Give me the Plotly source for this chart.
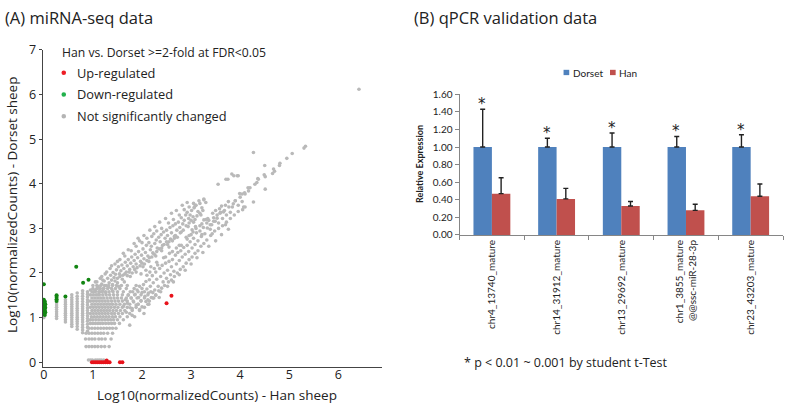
import plotly.graph_objects as go

W, H = 787, 410

# ---------------- Panel A data (log10 normalized counts) ----------------
green_x = [0.0, 0.0, 0.02, 0.0, 0.03, 0.01, 0.0, 0.02, 0.03, 0.0, 0.01, 0.02, 0.0, 0.03, 0.01, 0.0, 0.02,
           0.0, 0.01, 0.02, 0.26, 0.26, 0.26, 0.26, 0.44, 0.66, 0.80, 0.91]
green_y = [1.75, 1.40, 1.36, 1.33, 1.30, 1.28, 1.26, 1.24, 1.22, 1.20, 1.18, 1.16, 1.14, 1.12, 1.10, 1.08, 1.06,
           1.23, 1.27, 1.31, 1.50, 1.46, 1.41, 1.37, 1.47, 2.14, 1.78, 1.85]

red_x = [2.50, 2.60, 0.98, 1.02, 1.06, 1.10, 1.14, 1.18, 1.22, 1.26, 1.28, 1.30, 1.34, 1.55, 1.60]
red_y = [1.32, 1.49, 0.0, 0.0, 0.0, 0.0, 0.0, 0.0, 0.0, 0.0, 0.04, 0.0, 0.0, 0.0, 0.0]

# gray: low-count columns (x -> list of y)
gray_columns = {
    0.0: [1.00, 1.03],
    0.26: [0.98, 1.03, 1.08, 1.13, 1.18, 1.23, 1.28, 1.33],
    0.44: [0.90, 0.95, 1.00, 1.05, 1.10, 1.15, 1.20, 1.25, 1.30, 1.35, 1.40],
    0.57: [0.80, 0.85, 0.90, 0.95, 1.00, 1.05, 1.10, 1.15, 1.20, 1.25, 1.30, 1.35, 1.40, 1.45, 1.51],
    0.68: [0.74, 0.80, 0.86, 0.91, 0.96, 1.01, 1.06, 1.11, 1.16, 1.21, 1.26, 1.31, 1.36, 1.42, 1.48, 1.55],
    0.79: [0.66, 0.72, 0.78, 0.84, 0.90, 0.95, 1.00, 1.05, 1.10, 1.15, 1.20, 1.25, 1.30, 1.36, 1.42, 1.48, 1.54, 1.60],
    0.89: [0.70, 0.78, 0.85, 0.92, 0.98, 1.04, 1.10, 1.16, 1.22, 1.28, 1.34, 1.40, 1.46, 1.52, 1.58],
}
# gray: rows (y -> list of x)
gray_rows = {
    0.05: [0.91, 0.95, 0.99, 1.05, 1.09, 1.13, 1.17, 1.22],
    0.35: [0.86, 0.92, 0.98, 1.04, 1.10, 1.17, 1.24, 1.33],
    0.52: [0.85, 0.92, 0.98, 1.04, 1.12, 1.18, 1.25, 1.37],
    0.65: [0.86, 0.92, 0.98, 1.04, 1.10, 1.16, 1.22, 1.30, 1.40],
    0.76: [0.92, 0.98, 1.04, 1.10, 1.16, 1.22, 1.28, 1.34, 1.40, 1.47],
    0.87: [0.95, 1.00, 1.05, 1.10, 1.15, 1.20, 1.26, 1.32, 1.38, 1.44, 1.54],
    0.95: [0.95, 1.00, 1.06, 1.12, 1.18, 1.24, 1.30, 1.36, 1.42, 1.50, 1.62],
    1.02: [0.97, 1.03, 1.09, 1.15, 1.21, 1.27, 1.33, 1.40, 1.46, 1.55, 1.70, 1.85],
    1.09: [0.95, 1.01, 1.07, 1.13, 1.19, 1.25, 1.31, 1.38, 1.44, 1.52, 1.60, 1.75],
    1.16: [0.98, 1.04, 1.10, 1.16, 1.22, 1.28, 1.34, 1.41, 1.48, 1.56, 1.65, 1.80, 1.95],
    1.23: [0.95, 1.01, 1.07, 1.13, 1.19, 1.25, 1.31, 1.37, 1.44, 1.51, 1.60, 1.70, 1.88, 2.05],
    1.30: [0.98, 1.04, 1.10, 1.16, 1.22, 1.28, 1.34, 1.40, 1.47, 1.55, 1.64, 1.75, 1.92, 2.12],
    1.37: [0.95, 1.01, 1.07, 1.13, 1.19, 1.25, 1.31, 1.38, 1.45, 1.52, 1.60, 1.70, 1.82, 1.98, 2.15],
    1.44: [0.98, 1.04, 1.10, 1.16, 1.22, 1.29, 1.36, 1.43, 1.50, 1.58, 1.68, 1.78, 1.90, 2.05, 2.22],
    1.51: [0.95, 1.01, 1.07, 1.13, 1.20, 1.27, 1.34, 1.42, 1.50, 1.60, 1.72, 1.85, 1.98, 2.12, 2.28],
    1.58: [0.98, 1.05, 1.12, 1.19, 1.26, 1.33, 1.41, 1.50, 1.62, 1.76, 1.92, 2.05, 2.18],
    1.65: [1.00, 1.08, 1.15, 1.22, 1.30, 1.38, 1.46, 1.55, 1.68, 1.84, 2.00],
    1.72: [1.08, 1.16, 1.24, 1.32, 1.40, 1.48, 1.58, 1.70, 1.88],
}
# gray: upper diagonal band (x, y)
gray_upper_band = [
    (1.05, 1.62), (1.10, 1.70), (1.14, 1.58), (1.18, 1.75), (1.22, 1.66), (1.23, 1.82), (1.27, 1.72), (1.30, 1.88),
    (1.33, 1.78), (1.36, 1.95), (1.38, 1.84), (1.41, 2.01), (1.43, 1.90), (1.46, 1.97), (1.48, 2.07), (1.50, 1.88),
    (1.52, 2.14), (1.54, 1.98), (1.57, 2.05), (1.59, 2.18), (1.61, 1.95), (1.63, 2.10), (1.66, 2.24), (1.68, 2.02),
    (1.70, 2.16), (1.72, 2.30), (1.75, 2.08), (1.77, 2.22), (1.79, 2.36), (1.82, 2.14), (1.84, 2.28), (1.86, 2.42),
    (1.88, 2.20), (1.91, 2.34), (1.93, 2.48), (1.95, 2.72), (1.97, 2.26), (1.99, 2.40), (2.02, 2.54), (2.04, 2.32),
    (2.07, 2.46), (2.09, 2.62), (2.12, 2.38), (2.14, 2.68), (2.17, 2.52), (2.19, 2.60), (2.22, 2.45), (2.24, 2.88),
    (2.26, 2.66), (2.29, 2.74), (2.31, 2.56), (2.34, 2.80), (2.37, 2.70), (2.39, 2.86), (2.42, 2.62), (2.44, 2.92),
    (2.47, 2.78), (2.50, 2.96), (2.52, 2.84), (2.55, 2.70), (2.57, 3.02), (2.60, 2.90), (2.63, 3.06), (2.66, 2.82),
    (2.68, 3.10), (2.71, 2.96), (2.74, 3.14), (2.77, 3.02), (2.80, 3.24), (2.83, 3.10), (2.86, 3.18), (2.89, 3.30),
    (2.92, 3.36), (2.95, 3.22), (2.98, 3.30), (3.01, 3.40), (3.04, 3.26), (3.07, 3.48), (3.10, 3.52), (3.14, 3.38),
    (3.18, 3.56), (3.22, 3.46), (3.26, 3.64), (3.30, 3.58),
    (1.12, 1.52), (1.20, 1.60), (1.26, 1.56), (1.32, 1.68), (1.40, 1.74), (1.45, 1.82), (1.50, 1.78), (1.55, 1.92),
    (1.60, 1.86), (1.65, 1.98), (1.70, 1.94), (1.74, 2.02), (1.80, 2.00), (1.85, 2.08), (1.90, 2.12), (1.96, 2.16),
    (2.00, 2.22), (2.05, 2.20), (2.10, 2.28), (2.15, 2.34), (2.20, 2.36), (2.25, 2.42), (2.30, 2.48), (2.35, 2.54),
    (2.40, 2.50), (2.45, 2.64), (2.50, 2.70), (2.55, 2.58), (2.58, 2.76), (2.62, 2.72), (2.68, 2.84), (2.72, 2.80),
    (2.78, 2.90), (2.84, 2.96), (2.90, 3.06), (2.96, 3.12), (3.00, 3.18), (3.05, 3.14), (3.12, 3.28), (3.18, 3.34),
    (3.24, 3.40), (1.55, 2.30), (1.65, 2.38), (1.78, 2.50), (1.88, 2.60), (2.00, 2.68), (2.10, 2.78), (2.20, 2.82),
    (2.30, 2.94), (2.40, 3.00), (2.54, 3.12), (2.64, 3.20), (2.76, 3.30), (2.86, 3.42), (2.96, 3.48), (3.05, 3.56),
    (3.16, 3.62), (1.45, 2.20), (1.35, 2.10), (1.25, 1.98), (1.15, 1.88), (1.08, 1.80),
    (1.18, 1.92), (1.28, 2.02), (1.38, 2.16), (1.50, 2.26), (1.62, 2.44), (1.72, 2.52), (1.84, 2.66), (1.92, 2.78),
    (2.04, 2.84), (2.16, 2.96), (2.26, 3.04), (2.36, 3.14), (2.48, 3.22), (2.60, 3.34), (2.70, 3.40), (2.82, 3.52),
    (2.92, 3.58), (1.40, 1.60), (1.52, 1.70), (1.64, 1.80), (1.76, 1.92), (1.88, 2.02), (2.02, 2.14), (2.14, 2.26),
    (2.28, 2.38), (2.40, 2.56), (2.52, 2.64), (2.66, 2.78), (2.80, 2.92), (2.94, 3.04), (3.08, 3.20), (3.20, 3.30),
    (1.00, 1.72), (1.05, 1.80), (1.12, 1.66), (1.20, 1.84), (1.02, 1.58), (0.95, 1.62),
]
# gray: lower diagonal band (x, y)
gray_lower_band = [
    (1.62, 1.25), (1.66, 1.40), (1.70, 1.32), (1.72, 1.50), (1.75, 0.83), (1.76, 1.22), (1.78, 1.44), (1.81, 1.58),
    (1.83, 1.35), (1.86, 1.52), (1.88, 1.28), (1.90, 1.62), (1.93, 1.45), (1.95, 1.70), (1.98, 1.38), (2.00, 1.56),
    (2.03, 1.74), (2.04, 1.09), (2.06, 1.48), (2.08, 1.81), (2.10, 1.64), (2.13, 1.55), (2.15, 1.85), (2.17, 1.70),
    (2.19, 1.45), (2.21, 1.94), (2.23, 1.78), (2.26, 1.62), (2.28, 2.02), (2.30, 1.86), (2.33, 1.70), (2.35, 1.45),
    (2.36, 2.10), (2.38, 1.92), (2.41, 2.17), (2.43, 1.80), (2.45, 2.00), (2.48, 2.22), (2.50, 1.88), (2.52, 2.06),
    (2.55, 2.26), (2.58, 1.96), (2.60, 2.14), (2.62, 2.30), (2.65, 2.04), (2.68, 2.40), (2.70, 2.20), (2.73, 2.46),
    (2.76, 2.28), (2.79, 2.50), (2.82, 2.36), (2.85, 2.57), (2.88, 2.42), (2.92, 2.62), (2.95, 2.48), (2.98, 2.70),
    (3.02, 2.56), (3.05, 2.78), (3.08, 2.64), (3.11, 2.90), (3.14, 2.72), (3.18, 2.94), (3.21, 2.82), (3.25, 3.02),
    (3.28, 2.88), (3.32, 3.12), (3.36, 3.18), (3.39, 2.98), (3.42, 3.08), (3.46, 3.24), (3.49, 3.16), (3.53, 3.30),
    (3.56, 3.12), (3.60, 3.36), (3.64, 3.22), (3.68, 3.40), (3.72, 3.30), (3.77, 3.48), (3.80, 3.36), (3.86, 3.55),
    (3.90, 3.62), (3.96, 3.52), (4.04, 3.60), (4.10, 3.48), (4.27, 3.59), (4.07, 3.48),
    (1.68, 1.12), (1.80, 1.20), (1.92, 1.30), (2.00, 1.24), (2.08, 1.36), (2.14, 1.30), (2.22, 1.56), (2.28, 1.50),
    (2.34, 1.60), (2.40, 1.66), (2.46, 1.72), (2.54, 1.80), (2.60, 1.84), (2.66, 1.92), (2.72, 2.00), (2.78, 2.08),
    (2.84, 2.14), (2.90, 2.22), (2.96, 2.30), (3.02, 2.36), (3.08, 2.44), (3.14, 2.50), (3.20, 2.60), (3.26, 2.66),
    (3.32, 2.74), (3.40, 2.84), (3.48, 2.94), (3.56, 3.00), (3.64, 3.06), (3.72, 3.14), (3.80, 3.22), (3.88, 3.30),
    (3.96, 3.38), (4.05, 3.42), (2.44, 2.34), (2.56, 2.44), (2.70, 2.56), (2.80, 2.62), (2.92, 2.76), (3.00, 2.86),
    (3.10, 3.00), (3.22, 3.10), (3.34, 3.22), (3.44, 3.34), (3.58, 3.44), (3.70, 3.52), (1.98, 1.98), (2.08, 2.06),
    (2.18, 2.14), (2.30, 2.24), (2.10, 1.95), (2.25, 2.10),
    (1.80, 1.05), (1.95, 1.18), (2.12, 1.40), (2.24, 1.44), (2.38, 1.58), (2.52, 1.70), (2.64, 1.80), (2.76, 1.96),
    (2.88, 2.06), (3.00, 2.20), (3.12, 2.34), (3.24, 2.46), (3.36, 2.60), (3.50, 2.72), (3.62, 2.86), (3.76, 2.98),
    (2.16, 2.02), (2.32, 2.18), (2.48, 2.36), (2.62, 2.48), (2.76, 2.62), (2.90, 2.80), (3.04, 2.92), (3.18, 3.06),
    (3.30, 3.20), (3.50, 3.40), (3.62, 3.50), (3.76, 3.60),
]
# gray: high-expression points (x, y)
gray_high = [
    (3.26, 3.66), (3.06, 3.46), (3.09, 3.52), (3.55, 3.99), (3.71, 4.10), (3.75, 4.10), (3.83, 4.22), (3.87, 4.18),
    (3.94, 4.18), (3.96, 4.18), (4.27, 4.70), (4.36, 4.12), (4.34, 4.03), (4.30, 3.99), (4.20, 3.91), (4.17, 3.84),
    (4.04, 3.77), (4.10, 3.77), (4.00, 3.70), (3.90, 3.62), (3.84, 3.48), (4.51, 4.16), (4.51, 3.88),
    (4.49, 4.20), (4.37, 4.10), (4.66, 4.23), (4.70, 4.28), (4.68, 4.33), (4.80, 4.41), (4.81, 4.46), (4.95, 4.57),
    (5.06, 4.68), (5.30, 4.80), (5.33, 4.84), (6.42, 6.12), (3.99, 3.78), (4.09, 3.80), (3.66, 3.37), (3.59, 3.34),
    (3.53, 3.23), (3.46, 3.16), (3.39, 3.08), (3.33, 3.01), (3.70, 3.08), (3.43, 2.88), (3.26, 3.19), (3.02, 2.97),
    (3.09, 3.04), (3.22, 2.86), (2.96, 2.84), (4.16, 3.91), (4.50, 4.41),
]

gray_x, gray_y = [], []
for cx, ys in gray_columns.items():
    for cy in ys:
        gray_x.append(cx); gray_y.append(cy)
for ry, xs in gray_rows.items():
    for rx in xs:
        gray_x.append(rx); gray_y.append(ry)
for px_, py_ in gray_upper_band + gray_lower_band + gray_high:
    gray_x.append(px_); gray_y.append(py_)

scatter_xticks = [0, 1, 2, 3, 4, 5, 6]
scatter_yticks = [0, 1, 2, 3, 4, 5, 6, 7]

# ---------------- Panel B data (qPCR) ----------------
categories = ["chr4_13740_mature", "chr14_31912_mature", "chr13_29692_mature",
              "chr1_3855_mature<br>@@ssc-miR-28-3p", "chr23_43203_mature"]
dorset = [1.00, 1.00, 1.00, 1.00, 1.00]
dorset_err = [0.43, 0.10, 0.16, 0.12, 0.14]
han = [0.47, 0.41, 0.33, 0.28, 0.44]
han_err = [0.18, 0.12, 0.05, 0.07, 0.14]

GRAY = "#b9b9b9"
fig = go.Figure()

fig.add_trace(go.Scatter(x=gray_x, y=gray_y, mode="markers", xaxis="x", yaxis="y",
                         marker=dict(color=GRAY, size=3.6, line=dict(width=0)), hoverinfo="skip"))
fig.add_trace(go.Scatter(x=green_x, y=green_y, mode="markers", xaxis="x", yaxis="y",
                         marker=dict(color="#128512", size=4, line=dict(width=0))))
fig.add_trace(go.Scatter(x=red_x, y=red_y, mode="markers", xaxis="x", yaxis="y",
                         marker=dict(color="#e8131b", size=4, line=dict(width=0))))

fig.add_trace(go.Bar(x=categories, y=dorset, name="Dorset", xaxis="x2", yaxis="y2",
                     marker=dict(color="#4f81bd", line=dict(width=0)),
                     error_y=dict(type="data", symmetric=False, array=dorset_err,
                                  arrayminus=[0] * len(dorset), color="#222", thickness=1.4, width=2.5)))
fig.add_trace(go.Bar(x=categories, y=han, name="Han", xaxis="x2", yaxis="y2",
                     marker=dict(color="#c0504d", line=dict(width=0)),
                     error_y=dict(type="data", symmetric=False, array=han_err,
                                  arrayminus=[0] * len(han), color="#222", thickness=1.4, width=2.5)))

def px2x(p):
    return p / W

def py2y(p):
    return 1 - p / H

annotations = []
shapes = []

# titles
annotations.append(dict(x=0, y=py2y(10), xref="paper", yref="paper", text="(A) miRNA-seq data",
                        showarrow=False, xanchor="left", yanchor="middle",
                        font=dict(family="Open Sans", size=16.5, color="#222")))
annotations.append(dict(x=px2x(411), y=py2y(10), xref="paper", yref="paper", text="(B) qPCR validation data",
                        showarrow=False, xanchor="left", yanchor="middle",
                        font=dict(family="Open Sans", size=16.5, color="#222")))
# panel A axis titles
annotations.append(dict(x=px2x(9), y=py2y(203), xref="paper", yref="paper",
                        text="Log10(normalizedCounts) - Dorset sheep", textangle=-90, showarrow=False,
                        xanchor="center", yanchor="middle", font=dict(family="Open Sans", size=13.5, color="#222")))
annotations.append(dict(x=px2x(215), y=py2y(401), xref="paper", yref="paper",
                        text="Log10(normalizedCounts) - Han sheep", showarrow=False,
                        xanchor="center", yanchor="middle", font=dict(family="Open Sans", size=13.5, color="#222")))
# panel A legend
annotations.append(dict(x=px2x(57), y=py2y(46.5), xref="paper", yref="paper",
                        text="Han vs. Dorset >=2-fold at FDR<0.05", showarrow=False,
                        xanchor="left", yanchor="middle", font=dict(family="Open Sans", size=12.2, color="#222")))
legend_items = [("Up-regulated", "#ed1c24", 67), ("Down-regulated", "#22b14c", 89.5),
                ("Not significantly changed", "#b4b4b4", 112)]
for label, col, yy in legend_items:
    annotations.append(dict(x=px2x(72), y=py2y(yy), xref="paper", yref="paper", text=label, showarrow=False,
                            xanchor="left", yanchor="middle", font=dict(family="Open Sans", size=12.8, color="#222")))
    r = 2.3
    shapes.append(dict(type="circle", xref="paper", yref="paper", x0=px2x(61 - r), x1=px2x(61 + r),
                       y0=py2y(yy + r), y1=py2y(yy - r), fillcolor=col, line=dict(width=0)))

# panel B legend
for label, col, sx in [("Dorset", "#4f81bd", 562.7), ("Han", "#c0504d", 609.3)]:
    shapes.append(dict(type="rect", xref="paper", yref="paper", x0=px2x(sx), x1=px2x(sx + 5.7),
                       y0=py2y(69.5), y1=py2y(64), fillcolor=col, line=dict(width=0)))
    annotations.append(dict(x=px2x(sx + 7.5), y=py2y(66.8), xref="paper", yref="paper", text=label,
                            showarrow=False, xanchor="left", yanchor="middle",
                            font=dict(family="Lato", size=10, color="#222")))
# panel B y title
annotations.append(dict(x=px2x(418), y=py2y(161), xref="paper", yref="paper", text="<b>Relative Expression</b>",
                        textangle=-90, showarrow=False, xanchor="center", yanchor="middle",
                        font=dict(family="Lato", size=9, color="#222")))
# asterisks
for i, (v, e) in enumerate(zip(dorset, dorset_err)):
    annotations.append(dict(x=i, y=v + e, xref="x2", yref="y2", text="*", showarrow=False,
                            xanchor="center", yanchor="middle", xshift=-9.5, yshift=5,
                            font=dict(family="DejaVu Sans", size=15, color="#222")))
# footnote
annotations.append(dict(x=px2x(461), y=py2y(367), xref="paper", yref="paper",
                        text="* p < 0.01 ~ 0.001 by student t-Test", showarrow=False,
                        xanchor="left", yanchor="middle", font=dict(family="Open Sans", size=12.5, color="#222")))

fig.update_layout(
    width=W, height=H, margin=dict(l=0, r=0, t=0, b=0),
    paper_bgcolor="white", plot_bgcolor="white", showlegend=False,
    barmode="group", bargap=0.43, bargroupgap=0,
    font=dict(family="Open Sans", color="#222"),
    xaxis=dict(domain=[px2x(40), px2x(380)], range=[-0.02, 6.88], tickvals=scatter_xticks,
               showline=True, linecolor="#444", linewidth=1.4, ticks="", ticklabelstandoff=-4,
               showgrid=False, zeroline=False, tickfont=dict(family="Open Sans", size=12.5, color="#222"),
               anchor="y"),
    yaxis=dict(domain=[py2y(371.7), py2y(43)], range=[-0.108, 7.01], tickvals=scatter_yticks,
               showline=True, linecolor="#444", linewidth=1.4, ticks="outside", ticklen=3, tickcolor="#444",
               showgrid=False, zeroline=False, tickfont=dict(family="Open Sans", size=12.5, color="#222"),
               anchor="x"),
    xaxis2=dict(domain=[px2x(458.3), px2x(783)], type="category", showline=True, linecolor="#868686",
                linewidth=1, ticks="outside", tickson="boundaries", ticklen=4, tickcolor="#868686",
                tickangle=-90, showgrid=False, zeroline=False,
                tickfont=dict(family="Lato", size=10, color="#222"), anchor="y2"),
    yaxis2=dict(domain=[py2y(235), py2y(89.3)], range=[0, 1.6], dtick=0.2, tick0=0, tickformat=".2f",
                showline=True, linecolor="#868686", linewidth=1, ticks="outside", ticklen=4,
                tickcolor="#868686", showgrid=False, zeroline=False,
                tickfont=dict(family="Lato", size=10, color="#222"), anchor="x2"),
    annotations=annotations, shapes=shapes,
)

fig.write_html(
    "out.html",
    config={"displayModeBar": False},
    post_script=("document.documentElement.style.margin='0';document.body.style.margin='0';"
                 "document.body.style.overflow='hidden';"
                 "var d=document.getElementById('{plot_id}');d.style.position='fixed';"
                 "d.style.top='0px';d.style.left='0px';"),
)
